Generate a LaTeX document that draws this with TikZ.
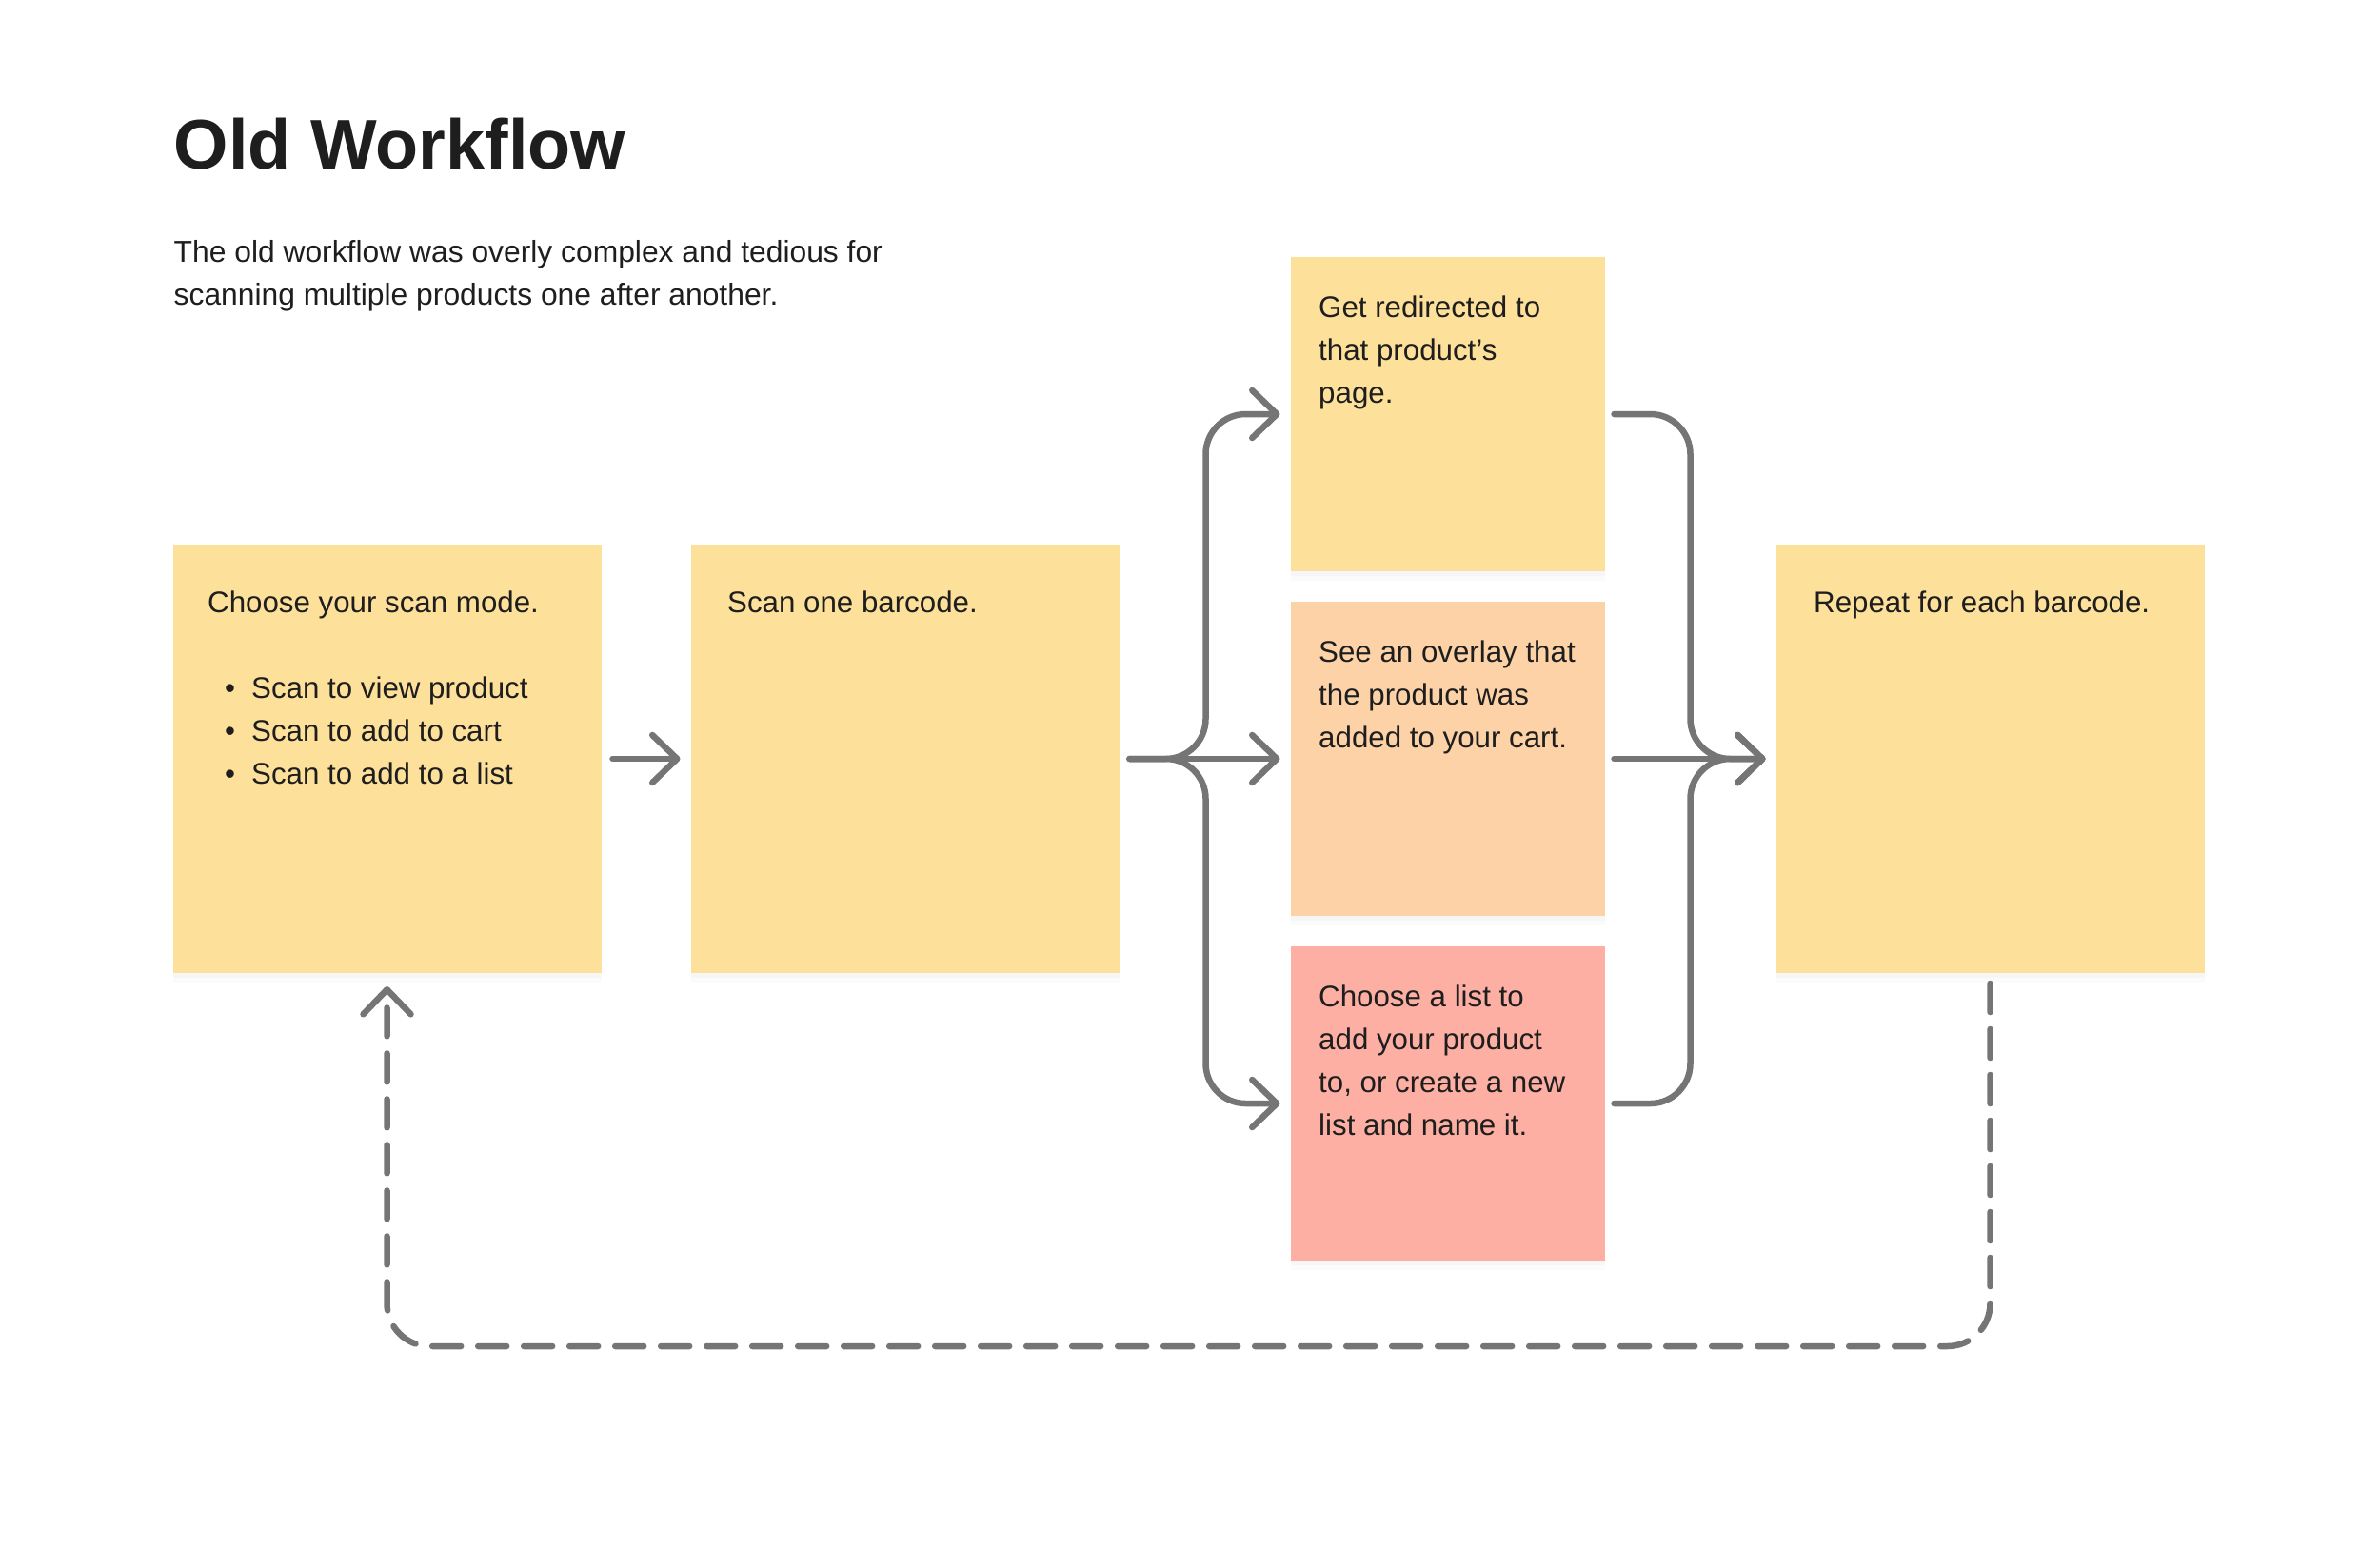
\documentclass[tikz,border=0pt]{standalone}
\usepackage{fontspec}
\setmainfont{Liberation Sans}
\definecolor{sticky}{RGB}{253, 224, 154}
\definecolor{peach}{RGB}{253, 210, 167}
\definecolor{salmon}{RGB}{253, 175, 164}
\definecolor{linegray}{RGB}{117, 117, 117}
\definecolor{ink}{RGB}{30, 30, 30}
\usepackage{tikz}
\usetikzlibrary{positioning,calc,arrows.meta,shadows}
\newcommand{\bul}{\hspace*{0.18cm}\makebox[0.28cm][l]{\textbullet}}

\begin{document}
\begin{tikzpicture}[
            note/.style={anchor=north west, inner sep=0pt, align=left, text=ink,
                font=\fontsize{8.9}{12.8}\selectfont},
            card/.style={
                rectangle, fill=sticky, inner sep=0pt, outer sep=0pt,
                drop shadow={shadow xshift=0pt, shadow yshift=-0.1cm, opacity=0.03},
                drop shadow={shadow xshift=0pt, shadow yshift=-0.05cm, opacity=0.04}
            },
            bigcard/.style={card, minimum size=4.5cm},
            smallcard/.style={card, minimum size=3.3cm},
            flow/.style={draw=linegray, line width=0.065cm, line cap=round, line join=round,
                -{Straight Barb[round, length=0.26cm, width=0.5cm]}},
        ]
            \path[use as bounding box, fill=white] (0,0) rectangle (25,-16.27);

            \node [anchor=base west, inner sep=0pt, text=ink,
                font=\fontsize{21}{25}\selectfont\bfseries] (title) at (1.82,-1.77) {Old Workflow};
            \node [note, font=\fontsize{9.05}{12.7}\selectfont] (intro) at (1.82,-2.52)
                {The old workflow was overly complex and tedious for\\scanning multiple products one after another.};

            \node [bigcard] (mode) at (4.065,-7.97) {};
            \node [bigcard] (scan) [right= 0.94cm of mode] {};
            \node [smallcard,fill=peach] (cart) [right= 1.8cm of scan] {};
            \node [smallcard] (page) [above= 0.32cm of cart] {};
            \node [smallcard,fill=salmon] (list) [below= 0.32cm of cart] {};
            \node [bigcard] (again) [right= 1.8cm of cart] {};

            \node [note] (modetext) at ([shift={(0.36,-0.48)}]mode.north west)
                {Choose your scan mode.\\[12.8pt]
                 \bul Scan to view product\\ \bul Scan to add to cart\\ \bul Scan to add to a list};
            \node [note] (scantext) at ([shift={(0.38,-0.48)}]scan.north west) {Scan one barcode.};
            \node [note] (pagetext) at ([shift={(0.29,-0.40)}]page.north west)
                {Get redirected to\\that product’s\\page.};
            \node [note] (carttext) at ([shift={(0.29,-0.40)}]cart.north west)
                {See an overlay that\\the product was\\added to your cart.};
            \node [note] (listtext) at ([shift={(0.29,-0.40)}]list.north west)
                {Choose a list to\\add your product\\to, or create a new\\list and name it.};
            \node [note] (againtext) at ([shift={(0.39,-0.48)}]again.north west) {Repeat for each barcode.};

            \coordinate (split) at ([xshift=0.91cm]scan.east);
            \coordinate (merge) at ([xshift=-0.9cm]again.west);
            \coordinate (back) at ([yshift=-3.92cm]again.south);

            \draw[flow] ([xshift=0.12cm]mode.east) -- ([xshift=-0.11cm]scan.west);
            \draw[flow,rounded corners=0.42cm] ([xshift=0.11cm]scan.east) -- (split) |- ([xshift=-0.11cm]page.west);
            \draw[flow] ([xshift=0.11cm]scan.east) -- ([xshift=-0.11cm]cart.west);
            \draw[flow,rounded corners=0.42cm] ([xshift=0.11cm]scan.east) -- (split) |- ([xshift=-0.11cm]list.west);
            \draw[flow,rounded corners=0.42cm] ([xshift=0.1cm]page.east) -| (merge) -- ([xshift=-0.11cm]again.west);
            \draw[flow] ([xshift=0.1cm]cart.east) -- ([xshift=-0.11cm]again.west);
            \draw[flow,rounded corners=0.42cm] ([xshift=0.1cm]list.east) -| (merge) -- ([xshift=-0.11cm]again.west);
            \draw[flow,dash pattern=on 0.3cm off 0.18cm,rounded corners=0.45cm]
                ([yshift=-0.11cm]again.south) -- (back) -| ([yshift=-0.14cm]mode.south);

        \end{tikzpicture}
\end{document}
